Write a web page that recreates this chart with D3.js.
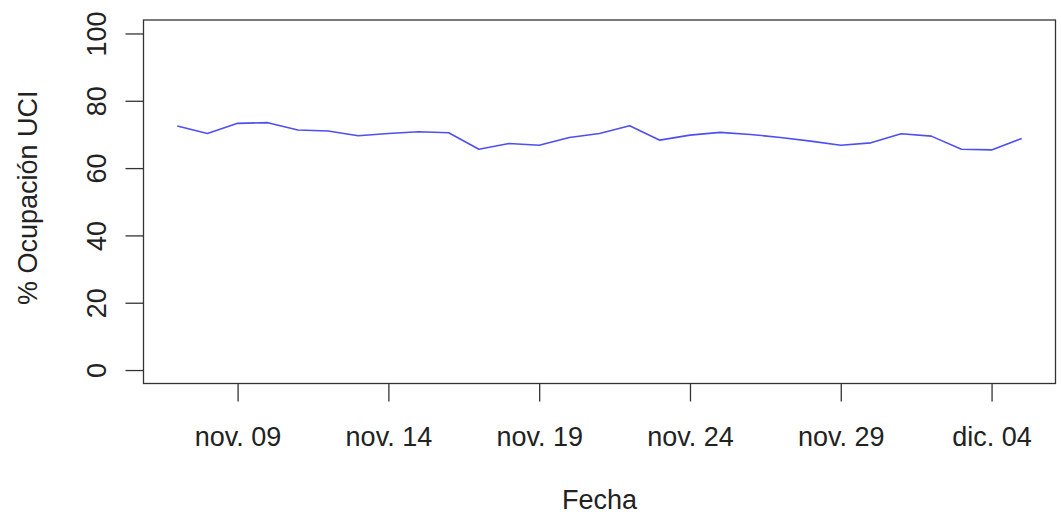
<!DOCTYPE html>
<html>
<head>
<meta charset="utf-8">
<script src="https://cdn.jsdelivr.net/npm/d3@7"></script>
<style>
  html, body { margin: 0; padding: 0; background: #fff; }
  svg { display: block; }
  text { font-family: "Liberation Sans", Arial, Helvetica, sans-serif; fill: #222; }
</style>
</head>
<body>
<svg id="chart" width="1061" height="529"></svg>
<script>
// Data
const dates = [
  "2020-11-07","2020-11-08","2020-11-09","2020-11-10","2020-11-11","2020-11-12","2020-11-13",
  "2020-11-14","2020-11-15","2020-11-16","2020-11-17","2020-11-18","2020-11-19","2020-11-20",
  "2020-11-21","2020-11-22","2020-11-23","2020-11-24","2020-11-25","2020-11-26","2020-11-27",
  "2020-11-28","2020-11-29","2020-11-30","2020-12-01","2020-12-02","2020-12-03","2020-12-04",
  "2020-12-05"
];
const ocupacion = [
  72.5, 70.3, 73.3, 73.5, 71.3, 71.0, 69.6,
  70.3, 70.8, 70.5, 65.6, 67.3, 66.8, 69.1,
  70.3, 72.6, 68.3, 69.8, 70.6, 70.0, 69.1,
  68.0, 66.8, 67.5, 70.2, 69.5, 65.6, 65.4,
  68.8
];
const xTickDates = ["2020-11-09","2020-11-14","2020-11-19","2020-11-24","2020-11-29","2020-12-04"];
const xTickLabels = ["nov. 09","nov. 14","nov. 19","nov. 24","nov. 29","dic. 04"];
const yTicks = [0, 20, 40, 60, 80, 100];
const xTitle = "Fecha";
const yTitle = "% Ocupación UCI";

const parse = d3.utcParse("%Y-%m-%d");
const pts = dates.map((d, i) => ({ date: parse(d), value: ocupacion[i] }));

const svg = d3.select("#chart");
const mLeft = 143.5, mRight = 1055.5, mTop = 20, mBottom = 383.5;

// R-style 4% padding on both axes
const [d0, d1] = d3.extent(pts, d => d.date);
const span = d1 - d0;
const x = d3.scaleUtc()
  .domain([new Date(+d0 - span * 0.04), new Date(+d1 + span * 0.04)])
  .range([mLeft, mRight]);
const y = d3.scaleLinear().domain([-4, 104]).range([mBottom, mTop]);

const fontSize = 27;

// Box
svg.append("rect")
  .attr("x", mLeft).attr("y", mTop)
  .attr("width", mRight - mLeft).attr("height", mBottom - mTop)
  .attr("fill", "none").attr("stroke", "#333").attr("stroke-width", 1.3);

// X axis
const xAxis = d3.axisBottom(x)
  .tickValues(xTickDates.map(parse))
  .tickFormat((d, i) => xTickLabels[i])
  .tickSizeInner(18).tickSizeOuter(0).tickPadding(25);
const gx = svg.append("g").attr("transform", `translate(0,${mBottom})`).call(xAxis);
gx.select(".domain").remove();
gx.selectAll("line").attr("stroke", "#333").attr("stroke-width", 1.3);
gx.selectAll("text").attr("font-size", fontSize).attr("fill", "#222")
  .attr("font-family", "Liberation Sans, Arial, sans-serif");

// Y axis
const yAxis = d3.axisLeft(y).tickValues(yTicks).tickFormat(d3.format("d"))
  .tickSizeInner(18).tickSizeOuter(0);
const gy = svg.append("g").attr("transform", `translate(${mLeft},0)`).call(yAxis);
gy.select(".domain").remove();
gy.selectAll("line").attr("stroke", "#333").attr("stroke-width", 1.3);
gy.selectAll("text")
  .attr("font-size", fontSize).attr("fill", "#222")
  .attr("font-family", "Liberation Sans, Arial, sans-serif")
  .attr("x", null).attr("dy", null)
  .attr("text-anchor", "middle")
  .attr("transform", "translate(-38,0) rotate(-90)");

// Line
const line = d3.line().x(d => x(d.date)).y(d => y(d.value));
svg.append("path").datum(pts)
  .attr("d", line)
  .attr("fill", "none")
  .attr("stroke", "#4f4ff0")
  .attr("stroke-width", 1.6)
  .attr("stroke-linejoin", "round");

// Titles
svg.append("text")
  .attr("x", (mLeft + mRight) / 2).attr("y", 509)
  .attr("text-anchor", "middle").attr("font-size", fontSize)
  .text(xTitle);
svg.append("text")
  .attr("transform", `translate(37,${(mTop + mBottom) / 2 - 4}) rotate(-90)`)
  .attr("text-anchor", "middle").attr("font-size", fontSize)
  .text(yTitle);
</script>
</body>
</html>
